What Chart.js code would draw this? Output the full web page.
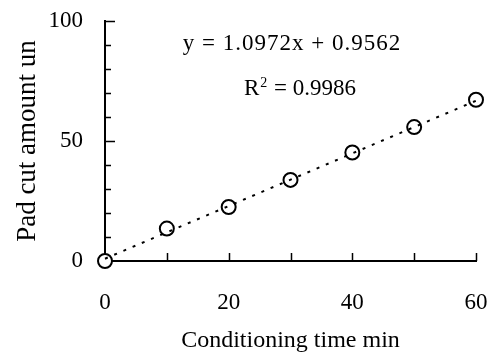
<!DOCTYPE html>
<html>
<head>
<meta charset="utf-8">
<script src="https://cdn.jsdelivr.net/npm/chart.js@4/dist/chart.umd.min.js"></script>
<style>
  html, body { margin: 0; padding: 0; background: #fff; }
  #wrap { width: 496px; height: 353px; }
</style>
</head>
<body>
<div id="wrap"><canvas id="myChart"></canvas></div>
<script>
const ctx = document.getElementById('myChart');

// data
const times = [0, 10, 20, 30, 40, 50, 60];
const padCut = [0, 13.5, 22.5, 33.8, 45.2, 55.8, 67.2];
const slope = 1.0972;
const intercept = 0.9562;
const xTicks = [0, 20, 40, 60];
const yTicks = [0, 50, 100];

const FONT = "'Liberation Serif', 'Times New Roman', serif";

const points = times.map((t, i) => ({ x: t, y: padCut[i] }));
const trend = [
	{ x: times[0], y: slope * times[0] + intercept },
	{ x: times[times.length - 1], y: slope * times[times.length - 1] + intercept },
];

// ticks pointing inward + the fit equation
const innerTicks = {
	id: 'innerTicks',
	afterDraw(chart) {
		const c = chart.ctx;
		const xs = chart.scales.x;
		const ys = chart.scales.y;
		const area = chart.chartArea;
		c.save();
		c.strokeStyle = '#000';
		c.lineWidth = 1.5;
		c.beginPath();
		for (let v = 10; v <= 60; v += 10) {
			const px = Math.round(xs.getPixelForValue(v)) + 0.5;
			c.moveTo(px, area.bottom);
			c.lineTo(px, area.bottom - 8);
		}
		for (let v = 10; v <= 100; v += 10) {
			const py = Math.round(ys.getPixelForValue(v)) + 0.5;
			const len = v % 50 === 0 ? 10 : 6;
			c.moveTo(area.left, py);
			c.lineTo(area.left + len, py);
		}
		c.stroke();

		c.fillStyle = '#000';
		c.textBaseline = 'alphabetic';
		c.font = `23px ${FONT}`;
		c.letterSpacing = '1px';
		c.textAlign = 'center';
		c.fillText(`y = ${slope}x + ${intercept}`, 292, 50);
		c.letterSpacing = '0px';
		c.textAlign = 'left';
		c.fillText('R', 244, 95);
		const rw = c.measureText('R').width;
		c.font = `14px ${FONT}`;
		c.fillText('2', 244 + rw + 1, 87);
		c.font = `23px ${FONT}`;
		c.fillText(' = 0.9986', 244 + rw + 9, 95);
		c.restore();
	},
};

new Chart(ctx, {
	type: 'scatter',
	data: {
		datasets: [
			{
				label: 'trend',
				type: 'line',
				data: trend,
				borderColor: '#000',
				borderWidth: 2,
				borderDash: [3, 7],
				pointRadius: 0,
				fill: false,
				order: 0,
				clip: false,
			},
			{
				label: 'Pad cut amount',
				data: points,
				pointRadius: 7,
				pointBorderWidth: 2,
				pointBorderColor: '#000',
				pointBackgroundColor: '#fff',
				order: 1,
				clip: false,
			},
		],
	},
	options: {
		responsive: true,
		maintainAspectRatio: false,
		animation: false,
		layout: { padding: { top: 21, right: 20, bottom: 0, left: 0 } },
		plugins: {
			legend: { display: false },
			tooltip: { enabled: false },
		},
		scales: {
			x: {
				type: 'linear',
				min: 0,
				max: 60,
				afterBuildTicks: (s) => { s.ticks = xTicks.map((v) => ({ value: v })); },
				afterFit: (s) => { s.height = 92; s.paddingLeft = 0; s.paddingRight = 0; },
				grid: { display: true, drawOnChartArea: false, drawTicks: false },
				border: { color: '#000', width: 2 },
				ticks: { color: '#000', font: { family: FONT, size: 23 }, padding: 28, maxRotation: 0 },
				title: {
					display: true,
					text: 'Conditioning time min',
					color: '#000',
					font: { family: FONT, size: 24, lineHeight: 1 },
					padding: { top: 0, bottom: 0 },
				},
			},
			y: {
				type: 'linear',
				min: 0,
				max: 100,
				afterBuildTicks: (s) => { s.ticks = yTicks.map((v) => ({ value: v })); },
				afterFit: (s) => { s.width = 105; s.paddingTop = 0; s.paddingBottom = 0; },
				grid: { display: true, drawOnChartArea: false, drawTicks: false },
				border: { color: '#000', width: 2 },
				ticks: { color: '#000', font: { family: FONT, size: 23 }, padding: 22 },
				title: {
					display: true,
					text: 'Pad cut amount un',
					color: '#000',
					font: { family: FONT, size: 27, lineHeight: 1 },
					padding: { top: 14, bottom: 0 },
				},
			},
		},
	},
	plugins: [innerTicks],
});
</script>
</body>
</html>
